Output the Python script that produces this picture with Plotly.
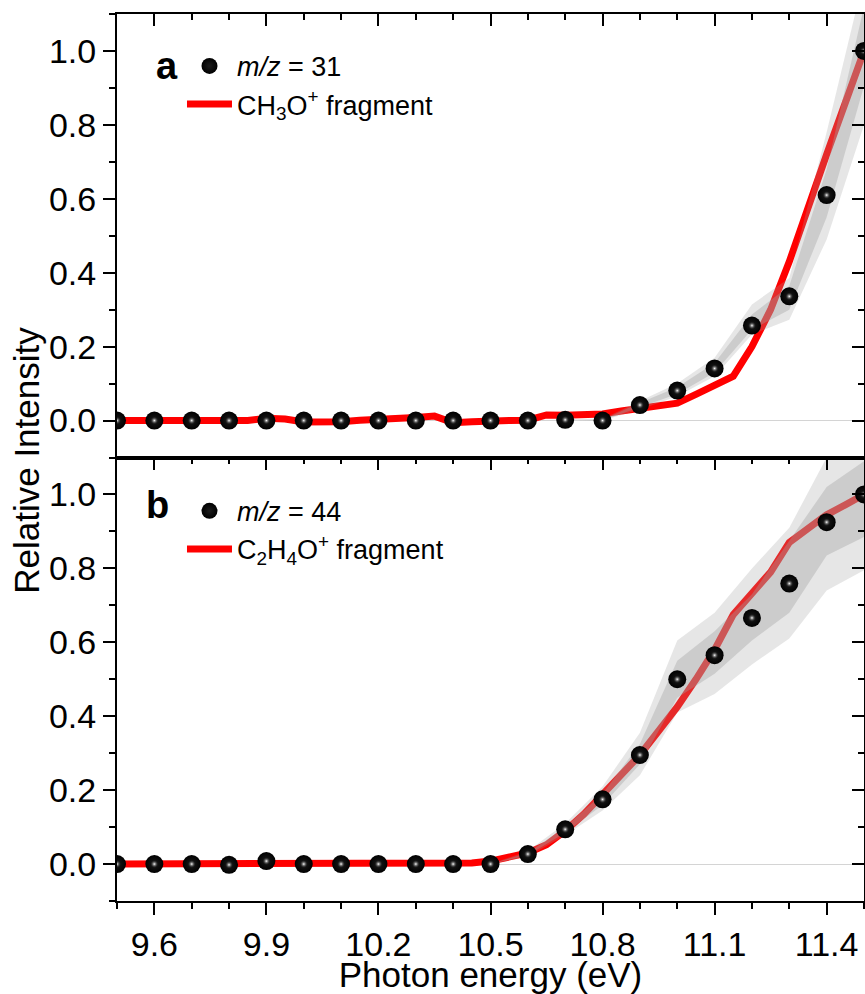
import plotly.graph_objects as go

# ---------------- data ----------------
energy = [9.5, 9.6, 9.7, 9.8, 9.9, 10.0, 10.1, 10.2, 10.3, 10.4, 10.5,
          10.6, 10.7, 10.8, 10.9, 11.0, 11.1, 11.2, 11.3, 11.4, 11.5]
a_dots = [0.0, 0.0, 0.0, 0.0, 0.0, 0.0, 0.0, 0.0, 0.0, 0.0, 0.0,
          0.0, 0.002, 0.0, 0.042, 0.081, 0.141, 0.257, 0.336, 0.61, 1.0]
b_dots = [0.0, 0.0, 0.0, -0.002, 0.008, 0.0, 0.0, 0.0, 0.0, 0.0, 0.0,
          0.027, 0.094, 0.175, 0.295, 0.50, 0.565, 0.666, 0.759, 0.925, 1.0]

line_energy = [9.50, 9.55, 9.60, 9.65, 9.70, 9.75, 9.80, 9.85, 9.90, 9.95,
               10.00, 10.05, 10.10, 10.15, 10.20, 10.25, 10.30, 10.35, 10.40, 10.45,
               10.50, 10.55, 10.60, 10.65, 10.70, 10.75, 10.80, 10.85, 10.90, 10.95,
               11.00, 11.05, 11.10, 11.15, 11.20, 11.25, 11.30, 11.35, 11.40, 11.45, 11.50]
a_line = [0.000, 0.000, 0.000, 0.000, 0.000, -0.001, -0.002, 0.000, 0.006, 0.004,
          -0.004, -0.004, -0.003, 0.001, 0.002, 0.004, 0.008, 0.012, -0.006, -0.003,
          0.000, 0.000, 0.001, 0.015, 0.014, 0.016, 0.018, 0.026, 0.033, 0.040,
          0.047, 0.071, 0.095, 0.120, 0.200, 0.300, 0.430, 0.580, 0.720, 0.860, 1.000]
b_line = [0.000, 0.000, 0.001, 0.001, 0.000, 0.000, 0.000, 0.002, 0.004, 0.002,
          0.000, 0.000, 0.000, 0.000, 0.000, 0.000, 0.000, 0.000, 0.000, 0.003,
          0.008, 0.018, 0.030, 0.052, 0.090, 0.135, 0.190, 0.245, 0.295, 0.360,
          0.425, 0.500, 0.580, 0.675, 0.730, 0.790, 0.870, 0.910, 0.945, 0.972, 1.000]

a_band_energy = [10.7, 10.8, 10.9, 11.0, 11.1, 11.2, 11.3, 11.4, 11.5]
a_outer_lo = [0.002, 0.0, 0.030, 0.066, 0.120, 0.233, 0.273, 0.49, 0.80]
a_inner_lo = [0.002, 0.0, 0.036, 0.072, 0.130, 0.246, 0.300, 0.55, 0.905]
a_inner_hi = [0.002, 0.002, 0.048, 0.090, 0.156, 0.287, 0.364, 0.68, 1.12]
a_outer_hi = [0.002, 0.004, 0.053, 0.100, 0.170, 0.314, 0.386, 0.78, 1.20]

b_band_energy = [10.5, 10.6, 10.7, 10.8, 10.9, 11.0, 11.1, 11.2, 11.3, 11.4, 11.5]
b_outer_lo = [0.0, 0.020, 0.078, 0.145, 0.240, 0.41, 0.46, 0.54, 0.61, 0.74, 0.795]
b_inner_lo = [0.0, 0.024, 0.085, 0.160, 0.270, 0.45, 0.515, 0.605, 0.68, 0.835, 0.885]
b_inner_hi = [0.0, 0.030, 0.100, 0.190, 0.325, 0.55, 0.63, 0.73, 0.875, 1.02, 1.09]
b_outer_hi = [0.0, 0.035, 0.110, 0.210, 0.355, 0.605, 0.68, 0.80, 0.91, 1.10, 1.20]

x_ticks = [9.6, 9.9, 10.2, 10.5, 10.8, 11.1, 11.4]
x_ticktext = ["9.6", "9.9", "10.2", "10.5", "10.8", "11.1", "11.4"]
y_ticks = [0.0, 0.2, 0.4, 0.6, 0.8, 1.0]
y_ticktext = ["0.0", "0.2", "0.4", "0.6", "0.8", "1.0"]

# ---------------- styles ----------------
FONT = "Liberation Sans, Arial, sans-serif"
RED = "#ff0000"
OUTER = "rgba(160,160,160,0.263)"
INNER = "rgba(160,160,160,0.371)"

fig = go.Figure()


def add_panel(xa, ya, legend, rank0, line_vals, line_name, band_e, olo, ilo, ihi, ohi,
              dots, dot_name):
    fig.add_trace(go.Scatter(x=line_energy, y=line_vals, mode="lines", name=line_name,
                             line=dict(color=RED, width=7), xaxis=xa, yaxis=ya,
                             legend=legend, legendrank=rank0 + 2, hoverinfo="skip"))
    for lo, hi, col in ((olo, ohi, OUTER), (ilo, ihi, INNER)):
        fig.add_trace(go.Scatter(x=band_e, y=lo, mode="lines", line=dict(width=0),
                                 showlegend=False, xaxis=xa, yaxis=ya, hoverinfo="skip"))
        fig.add_trace(go.Scatter(x=band_e, y=hi, mode="lines", line=dict(width=0),
                                 fill="tonexty", fillcolor=col, showlegend=False,
                                 xaxis=xa, yaxis=ya, hoverinfo="skip"))
    fig.add_trace(go.Scatter(x=energy, y=dots, mode="markers", name=dot_name,
                             marker=dict(color="black", size=18,
                                         gradient=dict(type="radial", color="#1c1c1c")),
                             xaxis=xa, yaxis=ya, legend=legend, legendrank=rank0 + 1))
    fig.add_trace(go.Scatter(x=energy, y=dots, mode="markers", showlegend=False,
                             marker=dict(color="rgba(30,30,30,0)", size=8,
                                         gradient=dict(type="radial", color="#ffffff")),
                             xaxis=xa, yaxis=ya, hoverinfo="skip"))


# top panel (a) on x2/y2
add_panel("x2", "y2", "legend", 0, a_line, "CH<sub>3</sub>O<sup>+</sup> fragment",
          a_band_energy, a_outer_lo, a_inner_lo, a_inner_hi, a_outer_hi,
          a_dots, "<i>m/z</i> = 31")
# bottom panel (b) on x/y
add_panel("x", "y", "legend2", 10, b_line, "C<sub>2</sub>H<sub>4</sub>O<sup>+</sup> fragment",
          b_band_energy, b_outer_lo, b_inner_lo, b_inner_hi, b_outer_hi,
          b_dots, "<i>m/z</i> = 44")

# invisible traces so that the mirror (top / right) axes are rendered
for xa, ya, dots in (("x3", "y", b_dots), ("x4", "y2", a_dots),
                     ("x", "y3", b_dots), ("x2", "y4", a_dots)):
    fig.add_trace(go.Scatter(x=energy, y=dots, mode="markers", xaxis=xa, yaxis=ya,
                             marker=dict(opacity=0, size=1), showlegend=False,
                             hoverinfo="skip"))

XR = [9.5, 11.5]
YR = [-0.1, 1.1]
tickfont = dict(family=FONT, size=34, color="black")

common_x = dict(range=XR, showgrid=False, zeroline=False, showline=True,
                linecolor="black", linewidth=2, automargin=False)
common_y = dict(range=YR, showgrid=False, showline=True, linecolor="black", linewidth=2,
                automargin=False)

inside_x = dict(tickmode="array", tickvals=x_ticks, showticklabels=False,
                ticks="inside", ticklen=12, tickwidth=2, tickcolor="black",
                minor=dict(dtick=0.1, tick0=9.5, ticks="inside", ticklen=6,
                           tickwidth=2, tickcolor="black"))
inside_y = dict(tickmode="array", tickvals=y_ticks, showticklabels=False,
                ticks="inside", ticklen=12, tickwidth=2, tickcolor="black",
                minor=dict(dtick=0.1, tick0=0, ticks="inside", ticklen=6,
                           tickwidth=2, tickcolor="black"))
outside_y = dict(tickmode="array", tickvals=y_ticks, ticktext=y_ticktext,
                 ticks="outside", ticklen=12, tickwidth=2, tickcolor="black",
                 minor=dict(dtick=0.1, tick0=0, ticks="outside", ticklen=6,
                            tickwidth=2, tickcolor="black"),
                 tickfont=tickfont,
                 zeroline=True, zerolinecolor="#d4d4d4", zerolinewidth=1)

fig.update_layout(
    width=865, height=994,
    margin=dict(l=117, r=1, t=14, b=93),
    paper_bgcolor="white", plot_bgcolor="white",
    font=dict(family=FONT, color="black"),
    xaxis=dict(**common_x, anchor="y", domain=[0, 1],
               tickmode="array", tickvals=x_ticks, ticktext=x_ticktext,
               ticks="outside", ticklen=12, tickwidth=2, tickcolor="black",
               minor=dict(dtick=0.1, tick0=9.5, ticks="outside", ticklen=6,
                          tickwidth=2, tickcolor="black"),
               tickfont=tickfont,
               title=dict(text="Photon energy (eV)", font=dict(family=FONT, size=35),
                          standoff=5)),
    xaxis2=dict(**common_x, anchor="y2", matches="x", showticklabels=False, ticks=""),
    xaxis3=dict(**common_x, anchor="y", overlaying="x", side="top", **inside_x),
    xaxis4=dict(**common_x, anchor="y2", overlaying="x2", side="top", **inside_x),
    yaxis=dict(**common_y, anchor="x", domain=[0, 0.5], **outside_y),
    yaxis2=dict(**common_y, anchor="x2", domain=[0.5, 1], **outside_y),
    yaxis3=dict(**common_y, anchor="x", overlaying="y", side="right", zeroline=False,
                **inside_y),
    yaxis4=dict(**common_y, anchor="x2", overlaying="y2", side="right", zeroline=False,
                **inside_y),
    legend=dict(x=0.087, y=0.9686, xanchor="left", yanchor="top", traceorder="normal",
                bgcolor="rgba(0,0,0,0)", font=dict(family=FONT, size=27),
                itemwidth=45, tracegroupgap=0),
    legend2=dict(x=0.087, y=0.467, xanchor="left", yanchor="top", traceorder="normal",
                 bgcolor="rgba(0,0,0,0)", font=dict(family=FONT, size=27),
                 itemwidth=45, tracegroupgap=0),
    showlegend=True,
    annotations=[
        dict(text="<b>a</b>", xref="paper", yref="paper", x=0.0668, y=0.9414,
             xanchor="center", yanchor="middle", showarrow=False,
             font=dict(family=FONT, size=38, color="black")),
        dict(text="<b>b</b>", xref="paper", yref="paper", x=0.0547, y=0.4465,
             xanchor="center", yanchor="middle", showarrow=False,
             font=dict(family=FONT, size=38, color="black")),
        dict(text="Relative Intensity", xref="paper", yref="paper", x=-0.121, y=0.497,
             xanchor="center", yanchor="middle", textangle=-90, showarrow=False,
             font=dict(family=FONT, size=35, color="black")),
    ],
)

fig.write_html("out.html")
